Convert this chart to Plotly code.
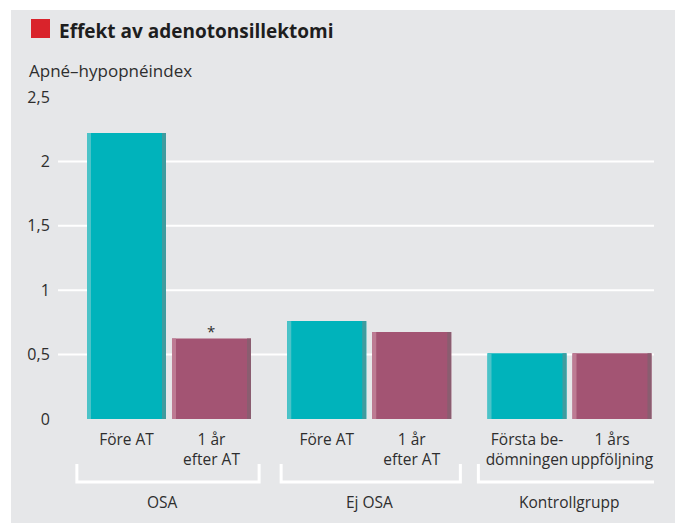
import plotly.graph_objects as go

# ---- data ----
groups = ["OSA", "Ej OSA", "Kontrollgrupp"]
before_labels = ["Före AT", "Före AT", "Första be-<br>dömningen"]
after_labels = ["1 år<br>efter AT", "1 år<br>efter AT", "1 års<br>uppföljning"]
before_vals = [2.22, 0.76, 0.51]
after_vals = [0.625, 0.675, 0.51]
after_marks = ["*", "", ""]
y_ticks = [0, 0.5, 1, 1.5, 2, 2.5]
y_ticktext = ["0", "0,5", "1", "1,5", "2", "2,5"]
title_text = "Effekt av adenotonsillektomi"
ytitle_text = "Apné–hypopnéindex"

# ---- layout constants ----
W, H = 675, 523
L, R, T, B = 58, 21, 97, 104
PW, PH = W - L - R, H - T - B
FONT = "Open Sans"
TXT = "#2e2e2e"
BG = "#e6e7e9"

def px_x(p):
    return (p - L) / PW

def px_y(p):
    return (H - B - p) / PH

bar_w = 0.3945
half_sep = 0.2122
strip = 0.02
bracket_left = [-0.46, -0.44, -0.455]
bracket_right = [0.45, 0.455, 0.51]

x_idx = list(range(len(groups)))

series = [
    (before_vals, -half_sep, "#00b3bb", "#4cc3c8", "#3f9c9f"),
    (after_vals, half_sep, "#a35473", "#bd7b93", "#8a5d70"),
]

fig = go.Figure()
for vals, off, main_c, light_c, dark_c in series:
    fig.add_trace(go.Bar(
        x=x_idx, y=vals, width=bar_w, offset=off - bar_w / 2,
        marker=dict(color=main_c, line=dict(width=0)),
        hoverinfo="skip", showlegend=False,
    ))
    fig.add_trace(go.Bar(
        x=x_idx, y=vals, width=strip, offset=off - bar_w / 2,
        marker=dict(color=light_c, line=dict(width=0)),
        hoverinfo="skip", showlegend=False,
    ))
    fig.add_trace(go.Bar(
        x=x_idx, y=vals, width=strip, offset=off + bar_w / 2 - strip,
        marker=dict(color=dark_c, line=dict(width=0)),
        hoverinfo="skip", showlegend=False,
    ))

tickvals, ticktext = [], []
for g in x_idx:
    tickvals += [g - half_sep, g + half_sep]
    ticktext += [before_labels[g], after_labels[g]]

shapes = []
# white border strips (top / left) outside the grey panel
shapes.append(dict(type="rect", xref="paper", yref="paper",
                   x0=px_x(0), x1=px_x(W), y0=px_y(10), y1=px_y(0),
                   fillcolor="white", line=dict(width=0), layer="below"))
shapes.append(dict(type="rect", xref="paper", yref="paper",
                   x0=px_x(0), x1=px_x(11), y0=px_y(H), y1=px_y(0),
                   fillcolor="white", line=dict(width=0), layer="below"))
# gridlines
for v in y_ticks[1:-1]:
    shapes.append(dict(type="line", xref="paper", yref="y", x0=0, x1=1,
                       y0=v, y1=v, line=dict(color="white", width=2),
                       layer="below"))
# red square
shapes.append(dict(type="rect", xref="paper", yref="paper",
                   x0=px_x(31), x1=px_x(50), y0=px_y(38), y1=px_y(19),
                   fillcolor="#d9232b", line=dict(width=0)))
# group brackets
yt, yb = px_y(464), px_y(482)
for g in x_idx:
    x0, x1 = g + bracket_left[g], g + bracket_right[g]
    shapes.append(dict(type="path", xref="x", yref="paper",
                       path=f"M {x0},{yt} L {x0},{yb} L {x1},{yb} L {x1},{yt}",
                       line=dict(color="white", width=3)))

annotations = [
    dict(text=f"<b>{title_text}</b>", x=px_x(57), y=px_y(31), xref="paper",
         yref="paper", xanchor="left", yanchor="middle", showarrow=False,
         font=dict(family=FONT, size=19, color="#1e1e1e")),
    dict(text=ytitle_text, x=px_x(27), y=px_y(71), xref="paper",
         yref="paper", xanchor="left", yanchor="middle", showarrow=False,
         font=dict(family=FONT, size=17, color=TXT)),
]
for g in x_idx:
    annotations.append(dict(text=groups[g], x=g - (0.03 if g == 0 else 0),
                            y=px_y(502), xref="x",
                            yref="paper", xanchor="center", yanchor="middle",
                            showarrow=False,
                            font=dict(family=FONT, size=15.5, color=TXT)))
    if after_marks[g]:
        annotations.append(dict(text=after_marks[g], x=g + half_sep,
                                y=after_vals[g], xref="x", yref="y",
                                xanchor="center", yanchor="bottom",
                                yshift=-4, showarrow=False,
                                font=dict(family=FONT, size=15, color=TXT)))

fig.update_layout(
    width=W, height=H,
    margin=dict(l=L, r=R, t=T, b=B, autoexpand=False),
    paper_bgcolor=BG, plot_bgcolor="rgba(0,0,0,0)",
    barmode="overlay",
    shapes=shapes, annotations=annotations,
    xaxis=dict(range=[-0.5543, 2.4220], tickvals=tickvals, ticktext=ticktext,
               showgrid=False, zeroline=False, showline=False,
               ticks="outside", ticklen=6, tickcolor="rgba(0,0,0,0)",
               tickfont=dict(family=FONT, size=15.5, color=TXT)),
    yaxis=dict(range=[0, 2.5], tickvals=y_ticks, ticktext=y_ticktext,
               showgrid=False, zeroline=False, showline=False,
               ticks="outside", ticklen=4, tickcolor="rgba(0,0,0,0)",
               tickfont=dict(family=FONT, size=16, color=TXT)),
)

fig.write_html("out.html",
               config={"displayModeBar": False},
               post_script="document.body.style.margin='0px';"
                           "document.body.style.overflow='hidden';")
